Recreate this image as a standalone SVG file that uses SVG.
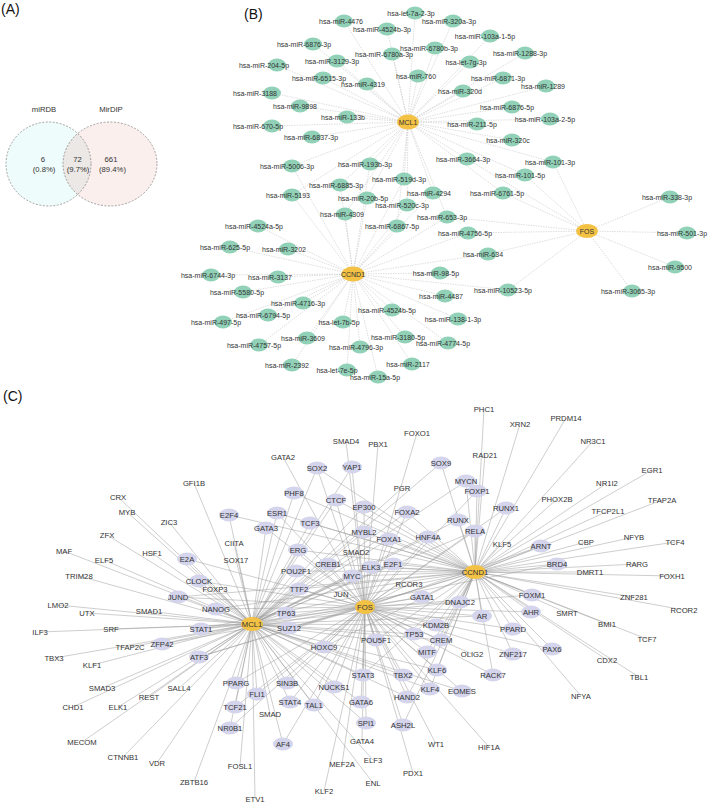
<svg xmlns="http://www.w3.org/2000/svg" width="708" height="803" viewBox="0 0 708 803">
<style>
text{font-family:"Liberation Sans",Arial,Helvetica,sans-serif;fill:#333;text-anchor:middle}
.pl{font-size:14px;fill:#111;text-anchor:start}
.tv{font-size:7.7px}
.tb{font-size:7px}
.tc{font-size:7.7px}
.gn{fill:#91d1b7}
.hub{fill:#f3c245}
.lav{fill:#d4d5ec}
.eb{stroke:#bcbcbc;stroke-width:0.5;stroke-dasharray:1.5 1;fill:none}
.ec{stroke:#9c9c9c;stroke-width:0.5;fill:none}
.vs{fill:none;stroke:#666;stroke-width:0.6;stroke-dasharray:2 1.5}
</style>
<defs>
<clipPath id="clipL"><ellipse cx="48.5" cy="164" rx="42.5" ry="42"/></clipPath>
</defs>
<rect width="708" height="803" fill="#fff"/>

<!-- Panel A -->
<g id="panelA">
<text class="pl" x="1" y="14">(A)</text>
<g id="venn">
<ellipse cx="48.5" cy="164" rx="42.5" ry="42" fill="#effcfc"/>
<ellipse cx="110" cy="164" rx="47" ry="42" fill="#fbefed"/>
<ellipse cx="110" cy="164" rx="47" ry="42" fill="#ebe8e5" clip-path="url(#clipL)"/>
<ellipse class="vs" cx="48.5" cy="164" rx="42.5" ry="42"/>
<ellipse class="vs" cx="110" cy="164" rx="47" ry="42"/>
<text class="tv" x="44" y="112">miRDB</text>
<text class="tv" x="111" y="112">MirDIP</text>
<text class="tv" x="43" y="162">6</text>
<text class="tv" x="44" y="172">(0.8%)</text>
<text class="tv" x="77.5" y="162">72</text>
<text class="tv" x="78" y="172">(9.7%)</text>
<text class="tv" x="111" y="162">661</text>
<text class="tv" x="112.5" y="172">(89.4%)</text>
</g>
</g>

<!-- Panel B -->
<text class="pl" x="244" y="19">(B)</text>
<g id="connectorsB" class="eb">
<path d="M408 122L415 13M408 122L344 21M408 122L387 29M408 122L313 44M408 122L435 48M408 122L392 54M408 122L337 61M408 122L277 65M408 122L323 78M408 122L367 84M408 122L418 76M408 122L272 93M408 122L300 106M408 122L347 117M408 122L272 126M408 122L312 137M408 122L453 21M408 122L490 36M408 122L470 62M408 122L525 53M408 122L503 78M408 122L546 86M408 122L463 91M408 122L512 107M408 122L550 119M408 122L477 124M408 122L512 140M408 122L292 166M408 122L370 164M408 122L340 185M408 122L404 179M408 122L292 195M408 122L367 198M408 122L433 193M408 122L407 205M408 122L345 214M408 122L447 217M408 122L397 226M408 122L467 159M408 122L553 162M408 122L525 175M408 122L503 193"/>
<path d="M353 274L292 166M353 274L370 164M353 274L340 185M353 274L404 179M353 274L292 195M353 274L367 198M353 274L433 193M353 274L407 205M353 274L345 214M353 274L447 217M353 274L397 226M353 274L258 226M353 274L230 247M353 274L288 249M353 274L468 233M353 274L488 254M353 274L508 290M353 274L211 275M353 274L278 277M353 274L440 273M353 274L243 292M353 274L445 296M353 274L303 303M353 274L268 315M353 274L392 310M353 274L458 319M353 274L223 322M353 274L343 322M353 274L259 345M353 274L307 338M353 274L405 337M353 274L448 343M353 274L360 347M353 274L292 365M353 274L412 364M353 274L347 370M353 274L378 377"/>
<path d="M587 231L447 217M587 231L467 159M587 231L468 233M587 231L553 162M587 231L525 175M587 231L503 193M587 231L670 197M587 231L687 233M587 231L675 267M587 231L488 254M587 231L632 291M587 231L508 290"/>
</g>

<g id="b-let-7a-2-3p"><ellipse class="gn" cx="415" cy="13" rx="9" ry="6.5"/><text class="tb" x="411" y="15.5">hsa-let-7a-2-3p</text></g>
<g id="b-miR-4476"><ellipse class="gn" cx="344" cy="21" rx="9" ry="6.5"/><text class="tb" x="341" y="23.5">hsa-miR-4476</text></g>
<g id="b-miR-4524b-3p"><ellipse class="gn" cx="387" cy="29" rx="9" ry="6.5"/><text class="tb" x="382" y="31.5">hsa-miR-4524b-3p</text></g>
<g id="b-miR-6876-3p"><ellipse class="gn" cx="313" cy="44" rx="9" ry="6.5"/><text class="tb" x="304" y="46.5">hsa-miR-6876-3p</text></g>
<g id="b-miR-6780b-3p"><ellipse class="gn" cx="435" cy="48" rx="9" ry="6.5"/><text class="tb" x="429" y="50.5">hsa-miR-6780b-3p</text></g>
<g id="b-miR-6780a-3p"><ellipse class="gn" cx="392" cy="54" rx="9" ry="6.5"/><text class="tb" x="384" y="56.5">hsa-miR-6780a-3p</text></g>
<g id="b-miR-3129-3p"><ellipse class="gn" cx="337" cy="61" rx="9" ry="6.5"/><text class="tb" x="332" y="63.5">hsa-miR-3129-3p</text></g>
<g id="b-miR-204-5p"><ellipse class="gn" cx="277" cy="65" rx="9" ry="6.5"/><text class="tb" x="264" y="67.5">hsa-miR-204-5p</text></g>
<g id="b-miR-6515-3p"><ellipse class="gn" cx="323" cy="78" rx="9" ry="6.5"/><text class="tb" x="319" y="80.5">hsa-miR-6515-3p</text></g>
<g id="b-miR-4319"><ellipse class="gn" cx="367" cy="84" rx="9" ry="6.5"/><text class="tb" x="363" y="86.5">hsa-miR-4319</text></g>
<g id="b-miR-760"><ellipse class="gn" cx="418" cy="76" rx="9" ry="6.5"/><text class="tb" x="416" y="78.5">hsa-miR-760</text></g>
<g id="b-miR-3188"><ellipse class="gn" cx="272" cy="93" rx="9" ry="6.5"/><text class="tb" x="255" y="95.5">hsa-miR-3188</text></g>
<g id="b-miR-9898"><ellipse class="gn" cx="300" cy="106" rx="9" ry="6.5"/><text class="tb" x="295" y="108.5">hsa-miR-9898</text></g>
<g id="b-miR-133b"><ellipse class="gn" cx="347" cy="117" rx="9" ry="6.5"/><text class="tb" x="343" y="119.5">hsa-miR-133b</text></g>
<g id="b-miR-670-5p"><ellipse class="gn" cx="272" cy="126" rx="9" ry="6.5"/><text class="tb" x="258" y="128.5">hsa-miR-670-5p</text></g>
<g id="b-miR-6837-3p"><ellipse class="gn" cx="312" cy="137" rx="9" ry="6.5"/><text class="tb" x="311" y="139.5">hsa-miR-6837-3p</text></g>
<g id="b-miR-320a-3p"><ellipse class="gn" cx="453" cy="21" rx="9" ry="6.5"/><text class="tb" x="449" y="23.5">hsa-miR-320a-3p</text></g>
<g id="b-miR-103a-1-5p"><ellipse class="gn" cx="490" cy="36" rx="9" ry="6.5"/><text class="tb" x="485" y="38.5">hsa-miR-103a-1-5p</text></g>
<g id="b-let-7g-3p"><ellipse class="gn" cx="470" cy="62" rx="9" ry="6.5"/><text class="tb" x="466" y="64.5">hsa-let-7g-3p</text></g>
<g id="b-miR-1288-3p"><ellipse class="gn" cx="525" cy="53" rx="9" ry="6.5"/><text class="tb" x="520" y="55.5">hsa-miR-1288-3p</text></g>
<g id="b-miR-6871-3p"><ellipse class="gn" cx="503" cy="78" rx="9" ry="6.5"/><text class="tb" x="498" y="80.5">hsa-miR-6871-3p</text></g>
<g id="b-miR-1289"><ellipse class="gn" cx="546" cy="86" rx="9" ry="6.5"/><text class="tb" x="543" y="88.5">hsa-miR-1289</text></g>
<g id="b-miR-320d"><ellipse class="gn" cx="463" cy="91" rx="9" ry="6.5"/><text class="tb" x="460" y="93.5">hsa-miR-320d</text></g>
<g id="b-miR-6876-5p"><ellipse class="gn" cx="512" cy="107" rx="9" ry="6.5"/><text class="tb" x="507" y="109.5">hsa-miR-6876-5p</text></g>
<g id="b-miR-103a-2-5p"><ellipse class="gn" cx="550" cy="119" rx="9" ry="6.5"/><text class="tb" x="545" y="121.5">hsa-miR-103a-2-5p</text></g>
<g id="b-miR-211-5p"><ellipse class="gn" cx="477" cy="124" rx="9" ry="6.5"/><text class="tb" x="472" y="126.5">hsa-miR-211-5p</text></g>
<g id="b-miR-320c"><ellipse class="gn" cx="512" cy="140" rx="9" ry="6.5"/><text class="tb" x="508" y="142.5">hsa-miR-320c</text></g>
<g id="b-miR-5006-3p"><ellipse class="gn" cx="292" cy="166" rx="9" ry="6.5"/><text class="tb" x="287" y="168.5">hsa-miR-5006-3p</text></g>
<g id="b-miR-193b-3p"><ellipse class="gn" cx="370" cy="164" rx="9" ry="6.5"/><text class="tb" x="365" y="166.5">hsa-miR-193b-3p</text></g>
<g id="b-miR-6885-3p"><ellipse class="gn" cx="340" cy="185" rx="9" ry="6.5"/><text class="tb" x="336" y="187.5">hsa-miR-6885-3p</text></g>
<g id="b-miR-519d-3p"><ellipse class="gn" cx="404" cy="179" rx="9" ry="6.5"/><text class="tb" x="399" y="181.5">hsa-miR-519d-3p</text></g>
<g id="b-miR-5193"><ellipse class="gn" cx="292" cy="195" rx="9" ry="6.5"/><text class="tb" x="288" y="197.5">hsa-miR-5193</text></g>
<g id="b-miR-20b-5p"><ellipse class="gn" cx="367" cy="198" rx="9" ry="6.5"/><text class="tb" x="363" y="200.5">hsa-miR-20b-5p</text></g>
<g id="b-miR-4294"><ellipse class="gn" cx="433" cy="193" rx="9" ry="6.5"/><text class="tb" x="429" y="195.5">hsa-miR-4294</text></g>
<g id="b-miR-520c-3p"><ellipse class="gn" cx="407" cy="205" rx="9" ry="6.5"/><text class="tb" x="402" y="207.5">hsa-miR-520c-3p</text></g>
<g id="b-miR-4309"><ellipse class="gn" cx="345" cy="214" rx="9" ry="6.5"/><text class="tb" x="342" y="216.5">hsa-miR-4309</text></g>
<g id="b-miR-653-3p"><ellipse class="gn" cx="447" cy="217" rx="9" ry="6.5"/><text class="tb" x="442" y="219.5">hsa-miR-653-3p</text></g>
<g id="b-miR-6867-5p"><ellipse class="gn" cx="397" cy="226" rx="9" ry="6.5"/><text class="tb" x="392" y="228.5">hsa-miR-6867-5p</text></g>
<g id="b-miR-4524a-5p"><ellipse class="gn" cx="258" cy="226" rx="9" ry="6.5"/><text class="tb" x="254" y="228.5">hsa-miR-4524a-5p</text></g>
<g id="b-miR-625-5p"><ellipse class="gn" cx="230" cy="247" rx="9" ry="6.5"/><text class="tb" x="225" y="249.5">hsa-miR-625-5p</text></g>
<g id="b-miR-3202"><ellipse class="gn" cx="288" cy="249" rx="9" ry="6.5"/><text class="tb" x="284" y="251.5">hsa-miR-3202</text></g>
<g id="b-miR-3664-3p"><ellipse class="gn" cx="467" cy="159" rx="9" ry="6.5"/><text class="tb" x="463" y="161.5">hsa-miR-3664-3p</text></g>
<g id="b-miR-4756-5p"><ellipse class="gn" cx="468" cy="233" rx="9" ry="6.5"/><text class="tb" x="465" y="235.5">hsa-miR-4756-5p</text></g>
<g id="b-miR-101-3p"><ellipse class="gn" cx="553" cy="162" rx="9" ry="6.5"/><text class="tb" x="550" y="164.5">hsa-miR-101-3p</text></g>
<g id="b-miR-101-5p"><ellipse class="gn" cx="525" cy="175" rx="9" ry="6.5"/><text class="tb" x="520" y="177.5">hsa-miR-101-5p</text></g>
<g id="b-miR-6761-5p"><ellipse class="gn" cx="503" cy="193" rx="9" ry="6.5"/><text class="tb" x="497" y="195.5">hsa-miR-6761-5p</text></g>
<g id="b-miR-338-3p"><ellipse class="gn" cx="670" cy="197" rx="9" ry="6.5"/><text class="tb" x="667" y="199.5">hsa-miR-338-3p</text></g>
<g id="b-miR-501-3p"><ellipse class="gn" cx="687" cy="233" rx="9" ry="6.5"/><text class="tb" x="682" y="235.5">hsa-miR-501-3p</text></g>
<g id="b-miR-9500"><ellipse class="gn" cx="675" cy="267" rx="9" ry="6.5"/><text class="tb" x="670" y="269.5">hsa-miR-9500</text></g>
<g id="b-miR-634"><ellipse class="gn" cx="488" cy="254" rx="9" ry="6.5"/><text class="tb" x="483" y="256.5">hsa-miR-634</text></g>
<g id="b-miR-3065-3p"><ellipse class="gn" cx="632" cy="291" rx="9" ry="6.5"/><text class="tb" x="628" y="293.5">hsa-miR-3065-3p</text></g>
<g id="b-miR-10523-5p"><ellipse class="gn" cx="508" cy="290" rx="9" ry="6.5"/><text class="tb" x="503" y="292.5">hsa-miR-10523-5p</text></g>
<g id="b-miR-6744-3p"><ellipse class="gn" cx="211" cy="275" rx="9" ry="6.5"/><text class="tb" x="208" y="277.5">hsa-miR-6744-3p</text></g>
<g id="b-miR-3137"><ellipse class="gn" cx="278" cy="277" rx="9" ry="6.5"/><text class="tb" x="270" y="279.5">hsa-miR-3137</text></g>
<g id="b-miR-98-5p"><ellipse class="gn" cx="440" cy="273" rx="9" ry="6.5"/><text class="tb" x="436" y="275.5">hsa-miR-98-5p</text></g>
<g id="b-miR-5580-5p"><ellipse class="gn" cx="243" cy="292" rx="9" ry="6.5"/><text class="tb" x="237" y="294.5">hsa-miR-5580-5p</text></g>
<g id="b-miR-4487"><ellipse class="gn" cx="445" cy="296" rx="9" ry="6.5"/><text class="tb" x="441" y="298.5">hsa-miR-4487</text></g>
<g id="b-miR-4716-3p"><ellipse class="gn" cx="303" cy="303" rx="9" ry="6.5"/><text class="tb" x="298" y="305.5">hsa-miR-4716-3p</text></g>
<g id="b-miR-6794-5p"><ellipse class="gn" cx="268" cy="315" rx="9" ry="6.5"/><text class="tb" x="263" y="317.5">hsa-miR-6794-5p</text></g>
<g id="b-miR-4524b-5p"><ellipse class="gn" cx="392" cy="310" rx="9" ry="6.5"/><text class="tb" x="387" y="312.5">hsa-miR-4524b-5p</text></g>
<g id="b-miR-138-1-3p"><ellipse class="gn" cx="458" cy="319" rx="9" ry="6.5"/><text class="tb" x="453" y="321.5">hsa-miR-138-1-3p</text></g>
<g id="b-miR-497-5p"><ellipse class="gn" cx="223" cy="322" rx="9" ry="6.5"/><text class="tb" x="216" y="324.5">hsa-miR-497-5p</text></g>
<g id="b-let-7b-5p"><ellipse class="gn" cx="343" cy="322" rx="9" ry="6.5"/><text class="tb" x="339" y="324.5">hsa-let-7b-5p</text></g>
<g id="b-miR-4757-5p"><ellipse class="gn" cx="259" cy="345" rx="9" ry="6.5"/><text class="tb" x="254" y="347.5">hsa-miR-4757-5p</text></g>
<g id="b-miR-3609"><ellipse class="gn" cx="307" cy="338" rx="9" ry="6.5"/><text class="tb" x="303" y="340.5">hsa-miR-3609</text></g>
<g id="b-miR-3180-5p"><ellipse class="gn" cx="405" cy="337" rx="9" ry="6.5"/><text class="tb" x="398" y="339.5">hsa-miR-3180-5p</text></g>
<g id="b-miR-4774-5p"><ellipse class="gn" cx="448" cy="343" rx="9" ry="6.5"/><text class="tb" x="443" y="345.5">hsa-miR-4774-5p</text></g>
<g id="b-miR-4796-3p"><ellipse class="gn" cx="360" cy="347" rx="9" ry="6.5"/><text class="tb" x="356" y="349.5">hsa-miR-4796-3p</text></g>
<g id="b-miR-2392"><ellipse class="gn" cx="292" cy="365" rx="9" ry="6.5"/><text class="tb" x="287" y="367.5">hsa-miR-2392</text></g>
<g id="b-miR-2117"><ellipse class="gn" cx="412" cy="364" rx="9" ry="6.5"/><text class="tb" x="408" y="366.5">hsa-miR-2117</text></g>
<g id="b-let-7e-5p"><ellipse class="gn" cx="347" cy="370" rx="9" ry="6.5"/><text class="tb" x="337" y="372.5">hsa-let-7e-5p</text></g>
<g id="b-miR-15a-5p"><ellipse class="gn" cx="378" cy="377" rx="9" ry="6.5"/><text class="tb" x="375" y="379.5">hsa-miR-15a-5p</text></g>
<g id="b-MCL1"><ellipse class="hub" cx="408" cy="122" rx="11" ry="7.5"/><text class="tb" x="408" y="124.5">MCL1</text></g>
<g id="b-FOS"><ellipse class="hub" cx="587" cy="231" rx="11" ry="7"/><text class="tb" x="587" y="233.5">FOS</text></g>
<g id="b-CCND1"><ellipse class="hub" cx="353" cy="274" rx="11.5" ry="7.5"/><text class="tb" x="353" y="276.5">CCND1</text></g>

<!-- Panel C -->
<text class="pl" x="3" y="401">(C)</text>
<g id="connectorsC" class="ec">
<path d="M252 624L194 483M252 624L402 488M252 624L118 497M252 624L127 512M252 624L169 522M252 624L107 535M252 624L234 543M252 624L64 551M252 624L104 560M252 624L152 553M252 624L236 560M252 624L79 576M252 624L215 589M252 624L58 605M252 624L87 613M252 624L149 611M252 624L40 632M252 624L111 629M252 624L54 658M252 624L130 647M252 624L92 665M252 624L102 688M252 624L179 688M252 624L73 707M252 624L118 707M252 624L149 697M252 624L270 714M252 624L82 742M252 624L123 757M252 624L157 763M252 624L240 766M252 624L373 760M252 624L194 782M252 624L373 783M252 624L255 799M252 624L229 515M252 624L187 559M252 624L199 581M252 624L178 597M252 624L216 609M252 624L201 629M252 624L162 644M252 624L199 657M252 624L236 683M252 624L235 707M252 624L230 728M252 624L257 694M252 624L287 683M252 624L290 702M252 624L283 744M252 624L314 705M252 624L334 687M252 624L324 647M252 624L286 613M252 624L289 628M252 624L299 589M252 624L296 571M252 624L298 550M252 624L328 564M252 624L352 576M252 624L371 567M252 624L393 564M252 624L266 528M252 624L277 513M252 624L294 493M252 624L310 523M252 624L317 468M252 624L352 467M252 624L336 500M252 624L364 507M252 624L364 532M252 624L389 539M252 624L407 512M252 624L428 537M252 624L441 463M252 624L466 481M252 624L458 520M252 624L475 531M252 624L557 564M252 624L422 597M252 624L460 602M252 624L482 616M252 624L436 625M252 624L414 634M252 624L441 640M252 624L376 640M252 624L437 670M252 624L363 675M252 624L403 675M252 624L430 689M252 624L462 691M252 624L407 697M252 624L361 702M252 624L366 723"/>
<path d="M365 607L417 433M365 607L346 441M365 607L378 444M365 607L283 457M365 607L356 552M365 607L409 584M365 607L341 594M365 607L472 654M365 607L362 741M365 607L436 744M365 607L342 764M365 607L413 773M365 607L324 791M365 607L489 747M365 607L187 559M365 607L199 581M365 607L178 597M365 607L216 609M365 607L201 629M365 607L162 644M365 607L199 657M365 607L236 683M365 607L235 707M365 607L230 728M365 607L257 694M365 607L287 683M365 607L290 702M365 607L283 744M365 607L314 705M365 607L334 687M365 607L324 647M365 607L286 613M365 607L289 628M365 607L299 589M365 607L296 571M365 607L298 550M365 607L328 564M365 607L352 576M365 607L371 567M365 607L393 564M365 607L266 528M365 607L277 513M365 607L317 468M365 607L352 467M365 607L336 500M365 607L364 507M365 607L389 539M365 607L407 512M365 607L428 537M365 607L477 491M365 607L506 508M365 607L475 531M365 607L541 546M365 607L422 597M365 607L460 602M365 607L532 595M365 607L482 616M365 607L531 612M365 607L513 629M365 607L436 625M365 607L414 634M365 607L441 640M365 607L376 640M365 607L427 652M365 607L513 654M365 607L552 649M365 607L437 670M365 607L493 675M365 607L363 675M365 607L403 675M365 607L430 689M365 607L462 691M365 607L407 697M365 607L361 702M365 607L366 723M365 607L403 725"/>
<path d="M475 572L484 409M475 572L520 424M475 572L566 418M475 572L593 441M475 572L485 455M475 572L652 470M475 572L607 483M475 572L662 500M475 572L557 499M475 572L608 511M475 572L502 544M475 572L586 542M475 572L634 537M475 572L675 542M475 572L637 564M475 572L590 572M475 572L672 576M475 572L634 597M475 572L684 610M475 572L567 613M475 572L607 624M475 572L647 639M475 572L607 660M475 572L639 677M475 572L581 696M475 572L229 515M475 572L178 597M475 572L216 609M475 572L201 629M475 572L199 657M475 572L324 647M475 572L289 628M475 572L299 589M475 572L296 571M475 572L298 550M475 572L328 564M475 572L352 576M475 572L371 567M475 572L393 564M475 572L277 513M475 572L294 493M475 572L310 523M475 572L317 468M475 572L336 500M475 572L364 507M475 572L364 532M475 572L389 539M475 572L407 512M475 572L428 537M475 572L441 463M475 572L466 481M475 572L477 491M475 572L458 520M475 572L506 508M475 572L475 531M475 572L541 546M475 572L557 564M475 572L422 597M475 572L460 602M475 572L532 595M475 572L482 616M475 572L531 612M475 572L513 629M475 572L436 625M475 572L414 634M475 572L441 640M475 572L376 640M475 572L427 652M475 572L513 654M475 572L552 649M475 572L437 670M475 572L493 675M475 572L363 675M475 572L430 689M475 572L407 697M475 572L403 725"/>
</g>

<g id="c-PHC1"><text class="tc" x="484" y="411.7">PHC1</text></g>
<g id="c-XRN2"><text class="tc" x="520" y="426.7">XRN2</text></g>
<g id="c-PRDM14"><text class="tc" x="566" y="420.7">PRDM14</text></g>
<g id="c-NR3C1"><text class="tc" x="593" y="443.7">NR3C1</text></g>
<g id="c-FOXO1"><text class="tc" x="417" y="435.7">FOXO1</text></g>
<g id="c-SMAD4"><text class="tc" x="346" y="443.7">SMAD4</text></g>
<g id="c-PBX1"><text class="tc" x="378" y="446.7">PBX1</text></g>
<g id="c-RAD21"><text class="tc" x="485" y="457.7">RAD21</text></g>
<g id="c-EGR1"><text class="tc" x="652" y="472.7">EGR1</text></g>
<g id="c-GATA2"><text class="tc" x="283" y="459.7">GATA2</text></g>
<g id="c-NR1I2"><text class="tc" x="607" y="485.7">NR1I2</text></g>
<g id="c-TFAP2A"><text class="tc" x="662" y="502.7">TFAP2A</text></g>
<g id="c-GFI1B"><text class="tc" x="194" y="485.7">GFI1B</text></g>
<g id="c-PGR"><text class="tc" x="402" y="490.7">PGR</text></g>
<g id="c-PHOX2B"><text class="tc" x="557" y="501.7">PHOX2B</text></g>
<g id="c-TFCP2L1"><text class="tc" x="608" y="513.7">TFCP2L1</text></g>
<g id="c-CRX"><text class="tc" x="118" y="499.7">CRX</text></g>
<g id="c-MYB"><text class="tc" x="127" y="514.7">MYB</text></g>
<g id="c-ZIC3"><text class="tc" x="169" y="524.7">ZIC3</text></g>
<g id="c-KLF5"><text class="tc" x="502" y="546.7">KLF5</text></g>
<g id="c-CBP"><text class="tc" x="586" y="544.7">CBP</text></g>
<g id="c-NFYB"><text class="tc" x="634" y="539.7">NFYB</text></g>
<g id="c-TCF4"><text class="tc" x="675" y="544.7">TCF4</text></g>
<g id="c-ZFX"><text class="tc" x="107" y="537.7">ZFX</text></g>
<g id="c-CIITA"><text class="tc" x="234" y="545.7">CIITA</text></g>
<g id="c-SMAD2"><text class="tc" x="356" y="554.7">SMAD2</text></g>
<g id="c-RARG"><text class="tc" x="637" y="566.7">RARG</text></g>
<g id="c-MAF"><text class="tc" x="64" y="553.7">MAF</text></g>
<g id="c-ELF5"><text class="tc" x="104" y="562.7">ELF5</text></g>
<g id="c-HSF1"><text class="tc" x="152" y="555.7">HSF1</text></g>
<g id="c-SOX17"><text class="tc" x="236" y="562.7">SOX17</text></g>
<g id="c-DMRT1"><text class="tc" x="590" y="574.7">DMRT1</text></g>
<g id="c-FOXH1"><text class="tc" x="672" y="578.7">FOXH1</text></g>
<g id="c-TRIM28"><text class="tc" x="79" y="578.7">TRIM28</text></g>
<g id="c-FOXP3"><text class="tc" x="215" y="591.7">FOXP3</text></g>
<g id="c-RCOR3"><text class="tc" x="409" y="586.7">RCOR3</text></g>
<g id="c-JUN"><text class="tc" x="341" y="596.7">JUN</text></g>
<g id="c-ZNF281"><text class="tc" x="634" y="599.7">ZNF281</text></g>
<g id="c-RCOR2"><text class="tc" x="684" y="612.7">RCOR2</text></g>
<g id="c-LMO2"><text class="tc" x="58" y="607.7">LMO2</text></g>
<g id="c-UTX"><text class="tc" x="87" y="615.7">UTX</text></g>
<g id="c-SMAD1"><text class="tc" x="149" y="613.7">SMAD1</text></g>
<g id="c-SMRT"><text class="tc" x="567" y="615.7">SMRT</text></g>
<g id="c-BMI1"><text class="tc" x="607" y="626.7">BMI1</text></g>
<g id="c-ILF3"><text class="tc" x="40" y="634.7">ILF3</text></g>
<g id="c-SRF"><text class="tc" x="111" y="631.7">SRF</text></g>
<g id="c-TCF7"><text class="tc" x="647" y="641.7">TCF7</text></g>
<g id="c-TBX3"><text class="tc" x="54" y="660.7">TBX3</text></g>
<g id="c-TFAP2C"><text class="tc" x="130" y="649.7">TFAP2C</text></g>
<g id="c-OLIG2"><text class="tc" x="472" y="656.7">OLIG2</text></g>
<g id="c-CDX2"><text class="tc" x="607" y="662.7">CDX2</text></g>
<g id="c-KLF1"><text class="tc" x="92" y="667.7">KLF1</text></g>
<g id="c-TBL1"><text class="tc" x="639" y="679.7">TBL1</text></g>
<g id="c-SMAD3"><text class="tc" x="102" y="690.7">SMAD3</text></g>
<g id="c-SALL4"><text class="tc" x="179" y="690.7">SALL4</text></g>
<g id="c-NFYA"><text class="tc" x="581" y="698.7">NFYA</text></g>
<g id="c-CHD1"><text class="tc" x="73" y="709.7">CHD1</text></g>
<g id="c-ELK1"><text class="tc" x="118" y="709.7">ELK1</text></g>
<g id="c-REST"><text class="tc" x="149" y="699.7">REST</text></g>
<g id="c-SMAD"><text class="tc" x="270" y="716.7">SMAD</text></g>
<g id="c-MECOM"><text class="tc" x="82" y="744.7">MECOM</text></g>
<g id="c-GATA4"><text class="tc" x="362" y="743.7">GATA4</text></g>
<g id="c-WT1"><text class="tc" x="436" y="746.7">WT1</text></g>
<g id="c-CTNNB1"><text class="tc" x="123" y="759.7">CTNNB1</text></g>
<g id="c-VDR"><text class="tc" x="157" y="765.7">VDR</text></g>
<g id="c-FOSL1"><text class="tc" x="240" y="768.7">FOSL1</text></g>
<g id="c-ELF3"><text class="tc" x="373" y="762.7">ELF3</text></g>
<g id="c-MEF2A"><text class="tc" x="342" y="766.7">MEF2A</text></g>
<g id="c-PDX1"><text class="tc" x="413" y="775.7">PDX1</text></g>
<g id="c-ZBTB16"><text class="tc" x="194" y="784.7">ZBTB16</text></g>
<g id="c-ENL"><text class="tc" x="373" y="785.7">ENL</text></g>
<g id="c-KLF2"><text class="tc" x="324" y="793.7">KLF2</text></g>
<g id="c-ETV1"><text class="tc" x="255" y="801.7">ETV1</text></g>
<g id="c-HIF1A"><text class="tc" x="489" y="749.7">HIF1A</text></g>

<g id="c-E2F4"><ellipse class="lav" cx="229" cy="515" rx="10" ry="6.5"/><text class="tc" x="229" y="517.7">E2F4</text></g>
<g id="c-E2A"><ellipse class="lav" cx="187" cy="559" rx="10" ry="6.5"/><text class="tc" x="187" y="561.7">E2A</text></g>
<g id="c-CLOCK"><ellipse class="lav" cx="199" cy="581" rx="10" ry="6.5"/><text class="tc" x="199" y="583.7">CLOCK</text></g>
<g id="c-JUND"><ellipse class="lav" cx="178" cy="597" rx="10" ry="6.5"/><text class="tc" x="178" y="599.7">JUND</text></g>
<g id="c-NANOG"><ellipse class="lav" cx="216" cy="609" rx="10" ry="6.5"/><text class="tc" x="216" y="611.7">NANOG</text></g>
<g id="c-STAT1"><ellipse class="lav" cx="201" cy="629" rx="10" ry="6.5"/><text class="tc" x="201" y="631.7">STAT1</text></g>
<g id="c-ZFP42"><ellipse class="lav" cx="162" cy="644" rx="10" ry="6.5"/><text class="tc" x="162" y="646.7">ZFP42</text></g>
<g id="c-ATF3"><ellipse class="lav" cx="199" cy="657" rx="10" ry="6.5"/><text class="tc" x="199" y="659.7">ATF3</text></g>
<g id="c-PPARG"><ellipse class="lav" cx="236" cy="683" rx="10" ry="6.5"/><text class="tc" x="236" y="685.7">PPARG</text></g>
<g id="c-TCF21"><ellipse class="lav" cx="235" cy="707" rx="10" ry="6.5"/><text class="tc" x="235" y="709.7">TCF21</text></g>
<g id="c-NR0B1"><ellipse class="lav" cx="230" cy="728" rx="10" ry="6.5"/><text class="tc" x="230" y="730.7">NR0B1</text></g>
<g id="c-FLI1"><ellipse class="lav" cx="257" cy="694" rx="10" ry="6.5"/><text class="tc" x="257" y="696.7">FLI1</text></g>
<g id="c-SIN3B"><ellipse class="lav" cx="287" cy="683" rx="10" ry="6.5"/><text class="tc" x="287" y="685.7">SIN3B</text></g>
<g id="c-STAT4"><ellipse class="lav" cx="290" cy="702" rx="10" ry="6.5"/><text class="tc" x="290" y="704.7">STAT4</text></g>
<g id="c-AF4"><ellipse class="lav" cx="283" cy="744" rx="10" ry="6.5"/><text class="tc" x="283" y="746.7">AF4</text></g>
<g id="c-TAL1"><ellipse class="lav" cx="314" cy="705" rx="10" ry="6.5"/><text class="tc" x="314" y="707.7">TAL1</text></g>
<g id="c-NUCKS1"><ellipse class="lav" cx="334" cy="687" rx="10" ry="6.5"/><text class="tc" x="334" y="689.7">NUCKS1</text></g>
<g id="c-HOXC9"><ellipse class="lav" cx="324" cy="647" rx="10" ry="6.5"/><text class="tc" x="324" y="649.7">HOXC9</text></g>
<g id="c-TP63"><ellipse class="lav" cx="286" cy="613" rx="10" ry="6.5"/><text class="tc" x="286" y="615.7">TP63</text></g>
<g id="c-SUZ12"><ellipse class="lav" cx="289" cy="628" rx="10" ry="6.5"/><text class="tc" x="289" y="630.7">SUZ12</text></g>
<g id="c-TTF2"><ellipse class="lav" cx="299" cy="589" rx="10" ry="6.5"/><text class="tc" x="299" y="591.7">TTF2</text></g>
<g id="c-POU2F1"><ellipse class="lav" cx="296" cy="571" rx="10" ry="6.5"/><text class="tc" x="296" y="573.7">POU2F1</text></g>
<g id="c-ERG"><ellipse class="lav" cx="298" cy="550" rx="10" ry="6.5"/><text class="tc" x="298" y="552.7">ERG</text></g>
<g id="c-CREB1"><ellipse class="lav" cx="328" cy="564" rx="10" ry="6.5"/><text class="tc" x="328" y="566.7">CREB1</text></g>
<g id="c-MYC"><ellipse class="lav" cx="352" cy="576" rx="10" ry="6.5"/><text class="tc" x="352" y="578.7">MYC</text></g>
<g id="c-ELK3"><ellipse class="lav" cx="371" cy="567" rx="10" ry="6.5"/><text class="tc" x="371" y="569.7">ELK3</text></g>
<g id="c-E2F1"><ellipse class="lav" cx="393" cy="564" rx="10" ry="6.5"/><text class="tc" x="393" y="566.7">E2F1</text></g>
<g id="c-GATA3"><ellipse class="lav" cx="266" cy="528" rx="10" ry="6.5"/><text class="tc" x="266" y="530.7">GATA3</text></g>
<g id="c-ESR1"><ellipse class="lav" cx="277" cy="513" rx="10" ry="6.5"/><text class="tc" x="277" y="515.7">ESR1</text></g>
<g id="c-PHF8"><ellipse class="lav" cx="294" cy="493" rx="10" ry="6.5"/><text class="tc" x="294" y="495.7">PHF8</text></g>
<g id="c-TCF3"><ellipse class="lav" cx="310" cy="523" rx="10" ry="6.5"/><text class="tc" x="310" y="525.7">TCF3</text></g>
<g id="c-SOX2"><ellipse class="lav" cx="317" cy="468" rx="10" ry="6.5"/><text class="tc" x="317" y="470.7">SOX2</text></g>
<g id="c-YAP1"><ellipse class="lav" cx="352" cy="467" rx="10" ry="6.5"/><text class="tc" x="352" y="469.7">YAP1</text></g>
<g id="c-CTCF"><ellipse class="lav" cx="336" cy="500" rx="10" ry="6.5"/><text class="tc" x="336" y="502.7">CTCF</text></g>
<g id="c-EP300"><ellipse class="lav" cx="364" cy="507" rx="10" ry="6.5"/><text class="tc" x="364" y="509.7">EP300</text></g>
<g id="c-MYBL2"><ellipse class="lav" cx="364" cy="532" rx="10" ry="6.5"/><text class="tc" x="364" y="534.7">MYBL2</text></g>
<g id="c-FOXA1"><ellipse class="lav" cx="389" cy="539" rx="10" ry="6.5"/><text class="tc" x="389" y="541.7">FOXA1</text></g>
<g id="c-FOXA2"><ellipse class="lav" cx="407" cy="512" rx="10" ry="6.5"/><text class="tc" x="407" y="514.7">FOXA2</text></g>
<g id="c-HNF4A"><ellipse class="lav" cx="428" cy="537" rx="10" ry="6.5"/><text class="tc" x="428" y="539.7">HNF4A</text></g>
<g id="c-SOX9"><ellipse class="lav" cx="441" cy="463" rx="10" ry="6.5"/><text class="tc" x="441" y="465.7">SOX9</text></g>
<g id="c-MYCN"><ellipse class="lav" cx="466" cy="481" rx="10" ry="6.5"/><text class="tc" x="466" y="483.7">MYCN</text></g>
<g id="c-FOXP1"><ellipse class="lav" cx="477" cy="491" rx="10" ry="6.5"/><text class="tc" x="477" y="493.7">FOXP1</text></g>
<g id="c-RUNX"><ellipse class="lav" cx="458" cy="520" rx="10" ry="6.5"/><text class="tc" x="458" y="522.7">RUNX</text></g>
<g id="c-RUNX1"><ellipse class="lav" cx="506" cy="508" rx="10" ry="6.5"/><text class="tc" x="506" y="510.7">RUNX1</text></g>
<g id="c-RELA"><ellipse class="lav" cx="475" cy="531" rx="10" ry="6.5"/><text class="tc" x="475" y="533.7">RELA</text></g>
<g id="c-ARNT"><ellipse class="lav" cx="541" cy="546" rx="10" ry="6.5"/><text class="tc" x="541" y="548.7">ARNT</text></g>
<g id="c-BRD4"><ellipse class="lav" cx="557" cy="564" rx="10" ry="6.5"/><text class="tc" x="557" y="566.7">BRD4</text></g>
<g id="c-GATA1"><ellipse class="lav" cx="422" cy="597" rx="10" ry="6.5"/><text class="tc" x="422" y="599.7">GATA1</text></g>
<g id="c-DNAJC2"><ellipse class="lav" cx="460" cy="602" rx="10" ry="6.5"/><text class="tc" x="460" y="604.7">DNAJC2</text></g>
<g id="c-FOXM1"><ellipse class="lav" cx="532" cy="595" rx="10" ry="6.5"/><text class="tc" x="532" y="597.7">FOXM1</text></g>
<g id="c-AR"><ellipse class="lav" cx="482" cy="616" rx="10" ry="6.5"/><text class="tc" x="482" y="618.7">AR</text></g>
<g id="c-AHR"><ellipse class="lav" cx="531" cy="612" rx="10" ry="6.5"/><text class="tc" x="531" y="614.7">AHR</text></g>
<g id="c-PPARD"><ellipse class="lav" cx="513" cy="629" rx="10" ry="6.5"/><text class="tc" x="513" y="631.7">PPARD</text></g>
<g id="c-KDM2B"><ellipse class="lav" cx="436" cy="625" rx="10" ry="6.5"/><text class="tc" x="436" y="627.7">KDM2B</text></g>
<g id="c-TP53"><ellipse class="lav" cx="414" cy="634" rx="10" ry="6.5"/><text class="tc" x="414" y="636.7">TP53</text></g>
<g id="c-CREM"><ellipse class="lav" cx="441" cy="640" rx="10" ry="6.5"/><text class="tc" x="441" y="642.7">CREM</text></g>
<g id="c-POU5F1"><ellipse class="lav" cx="376" cy="640" rx="10" ry="6.5"/><text class="tc" x="376" y="642.7">POU5F1</text></g>
<g id="c-MITF"><ellipse class="lav" cx="427" cy="652" rx="10" ry="6.5"/><text class="tc" x="427" y="654.7">MITF</text></g>
<g id="c-ZNF217"><ellipse class="lav" cx="513" cy="654" rx="10" ry="6.5"/><text class="tc" x="513" y="656.7">ZNF217</text></g>
<g id="c-PAX6"><ellipse class="lav" cx="552" cy="649" rx="10" ry="6.5"/><text class="tc" x="552" y="651.7">PAX6</text></g>
<g id="c-KLF6"><ellipse class="lav" cx="437" cy="670" rx="10" ry="6.5"/><text class="tc" x="437" y="672.7">KLF6</text></g>
<g id="c-RACK7"><ellipse class="lav" cx="493" cy="675" rx="10" ry="6.5"/><text class="tc" x="493" y="677.7">RACK7</text></g>
<g id="c-STAT3"><ellipse class="lav" cx="363" cy="675" rx="10" ry="6.5"/><text class="tc" x="363" y="677.7">STAT3</text></g>
<g id="c-TBX2"><ellipse class="lav" cx="403" cy="675" rx="10" ry="6.5"/><text class="tc" x="403" y="677.7">TBX2</text></g>
<g id="c-KLF4"><ellipse class="lav" cx="430" cy="689" rx="10" ry="6.5"/><text class="tc" x="430" y="691.7">KLF4</text></g>
<g id="c-EOMES"><ellipse class="lav" cx="462" cy="691" rx="10" ry="6.5"/><text class="tc" x="462" y="693.7">EOMES</text></g>
<g id="c-HAND2"><ellipse class="lav" cx="407" cy="697" rx="10" ry="6.5"/><text class="tc" x="407" y="699.7">HAND2</text></g>
<g id="c-GATA6"><ellipse class="lav" cx="361" cy="702" rx="10" ry="6.5"/><text class="tc" x="361" y="704.7">GATA6</text></g>
<g id="c-SPI1"><ellipse class="lav" cx="366" cy="723" rx="10" ry="6.5"/><text class="tc" x="366" y="725.7">SPI1</text></g>
<g id="c-ASH2L"><ellipse class="lav" cx="403" cy="725" rx="10" ry="6.5"/><text class="tc" x="403" y="727.7">ASH2L</text></g>

<g id="c-MCL1"><ellipse class="hub" cx="252" cy="624" rx="11" ry="7"/><text class="tc" x="252" y="626.7">MCL1</text></g>
<g id="c-FOS"><ellipse class="hub" cx="365" cy="607" rx="10" ry="7"/><text class="tc" x="365" y="609.7">FOS</text></g>
<g id="c-CCND1"><ellipse class="hub" cx="475" cy="572" rx="11" ry="7"/><text class="tc" x="475" y="574.7">CCND1</text></g>
</svg>
